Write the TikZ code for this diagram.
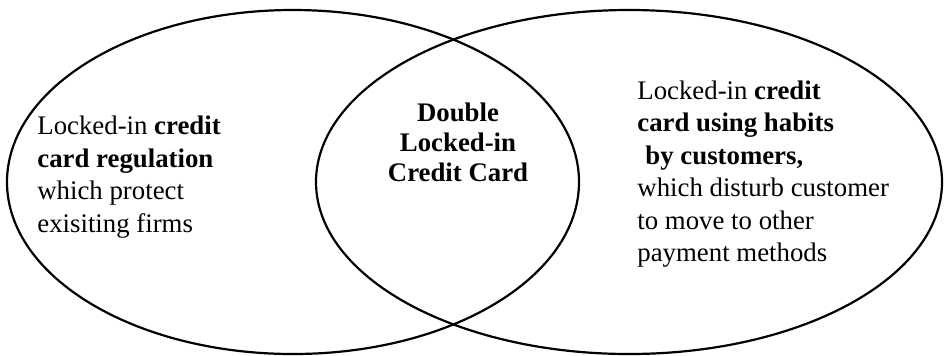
\documentclass[tikz,border=0pt]{standalone}
\usepackage{fontspec}
\setmainfont{Liberation Serif}
\tikzset{
    settext/.style={align=left, inner sep=0pt, font=\fontsize{13.4}{16.2}\selectfont},
    midtext/.style={align=center, inner sep=0pt, font=\fontsize{13.4}{15}\selectfont\bfseries}
}
\begin{document}
\begin{tikzpicture}[x=0.5pt, y=-0.5pt]
        \useasboundingbox (0,0) rectangle (945,355);
        % Conjuntos
        \foreach \cx/\rx in {293/286, 629/313} {
            \draw[line width=1.1pt] (\cx, 182) ellipse [x radius=\rx, y radius=172];
        }

        % Textos
        \node[settext, anchor=west] (left) at (37, 177)
            {Locked-in \textbf{credit}\\ \textbf{card regulation}\\ which protect\\ exisiting firms};
        \node[midtext] (middle) at (458, 142)
            {Double\\ Locked-in\\ Credit Card};
        \node[settext, anchor=west] (right) at (637, 174)
            {Locked-in \textbf{credit}\\ \textbf{card using habits}\\ \hspace{0.3em}\textbf{by customers,}\\ which disturb customer\\ to move to other\\ payment methods};
    \end{tikzpicture}
\end{document}
